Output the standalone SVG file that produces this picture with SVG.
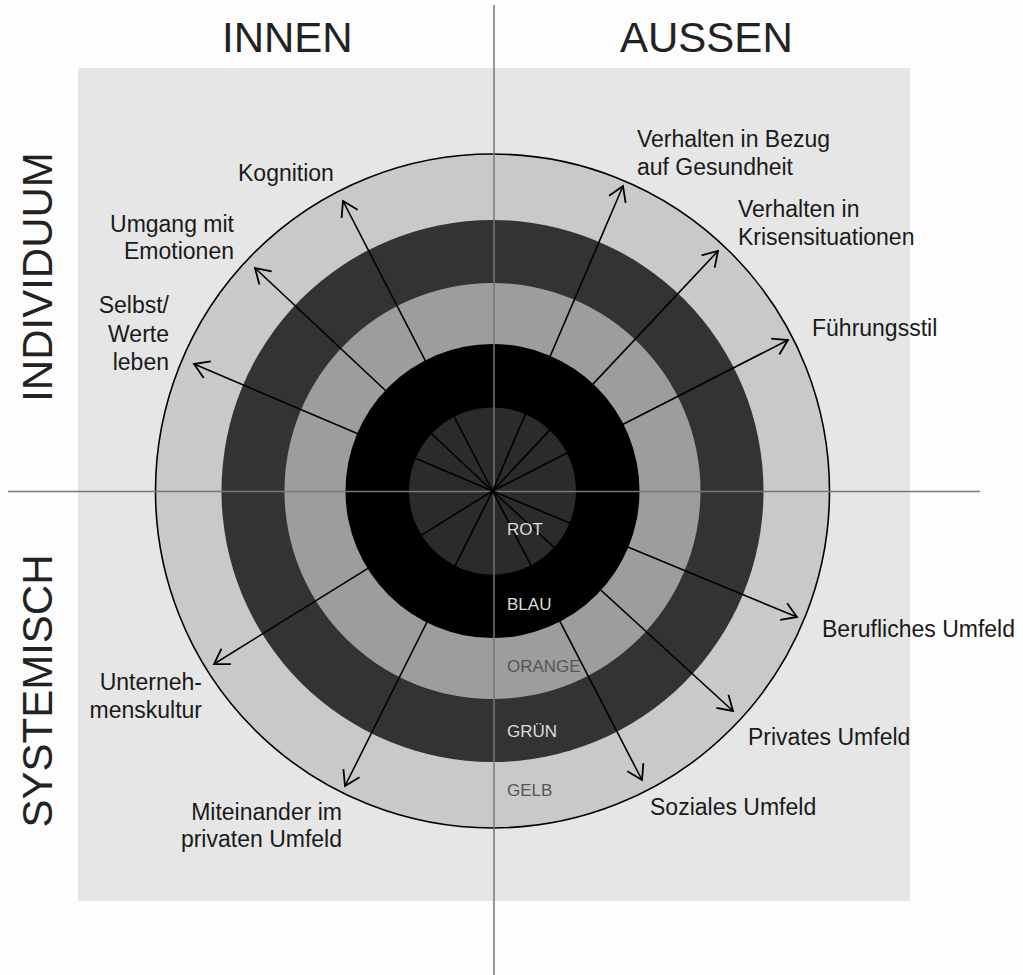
<svg xmlns="http://www.w3.org/2000/svg" width="1023" height="975" viewBox="0 0 1023 975">
<style>
  .lbl { font-family: "Liberation Sans", Arial, sans-serif; font-size: 23px; fill: #1a1a1a; }
  .head { font-family: "Liberation Sans", Arial, sans-serif; font-size: 42px; fill: #222; }
  .ring { font-family: "Liberation Sans", Arial, sans-serif; font-size: 17px; }
  .lt { fill: #dcdcdc; }
  .dk { fill: #555; }
  .axis { stroke: #777; stroke-width: 1.5; fill: none; }
  .arr { stroke: #000; stroke-width: 1.6; fill: none; marker-end: url(#ah); }
</style>
<defs>
  <marker id="ah" markerUnits="userSpaceOnUse" orient="auto" markerWidth="40" markerHeight="40" refX="0" refY="0" viewBox="-20 -20 40 40" overflow="visible">
    <path d="M-14.4,-9 L0,0 L-14.4,9" fill="none" stroke="#000" stroke-width="1.8" stroke-linejoin="miter"/>
  </marker>
</defs>
<rect x="0" y="0" width="1023" height="975" fill="#fdfdfd"/>
<rect id="field" x="78" y="68" width="832" height="833" fill="#e6e6e6"/>

<g id="rings">
  <circle id="ring-gelb" cx="492.5" cy="491" r="337" fill="#c9c9c9" stroke="#000" stroke-width="1.6"/>
  <circle id="ring-gruen" cx="492.5" cy="491" r="271" fill="#333"/>
  <circle id="ring-orange" cx="492.5" cy="491" r="208" fill="#9d9d9d"/>
  <circle id="ring-blau" cx="492.5" cy="491" r="147" fill="#000"/>
  <circle id="ring-rot" cx="492.5" cy="491" r="83.5" fill="#2b2b2b"/>
</g>

<g id="axes">
  <line class="axis" x1="494" y1="5" x2="494" y2="975"/>
  <line class="axis" x1="8" y1="491.5" x2="980" y2="491.5"/>
</g>

<g id="connectors">
  <line class="arr" x1="492.5" y1="491" x2="343" y2="201"/>
  <line class="arr" x1="492.5" y1="491" x2="255" y2="268"/>
  <line class="arr" x1="492.5" y1="491" x2="194" y2="364"/>
  <line class="arr" x1="492.5" y1="491" x2="623" y2="186"/>
  <line class="arr" x1="492.5" y1="491" x2="718" y2="251"/>
  <line class="arr" x1="492.5" y1="491" x2="788" y2="340"/>
  <line class="arr" x1="492.5" y1="491" x2="797" y2="617"/>
  <line class="arr" x1="492.5" y1="491" x2="733" y2="711"/>
  <line class="arr" x1="492.5" y1="491" x2="642" y2="780"/>
  <line class="arr" x1="492.5" y1="491" x2="345" y2="786"/>
  <line class="arr" x1="492.5" y1="491" x2="214" y2="664"/>
</g>

<g id="ring-labels">
  <text class="ring lt" x="507" y="535">ROT</text>
  <text class="ring lt" x="507" y="610">BLAU</text>
  <text class="ring dk" x="507" y="672">ORANGE</text>
  <text class="ring lt" x="507" y="737">GRÜN</text>
  <text class="ring dk" x="507" y="796">GELB</text>
</g>

<g id="headings">
  <text id="h-innen" class="head" x="222" y="52">INNEN</text>
  <text id="h-aussen" class="head" x="620" y="52">AUSSEN</text>
  <text id="h-individuum" class="head" text-anchor="middle" transform="translate(52,277) rotate(-90)">INDIVIDUUM</text>
  <text id="h-systemisch" class="head" text-anchor="middle" transform="translate(52,691) rotate(-90)">SYSTEMISCH</text>
</g>

<g id="n-kognition"><text class="lbl" x="238" y="181">Kognition</text></g>
<g id="n-umgang"><text class="lbl" text-anchor="end"><tspan x="234" y="232">Umgang mit</tspan><tspan x="234" y="259">Emotionen</tspan></text></g>
<g id="n-selbst"><text class="lbl" text-anchor="end"><tspan x="169" y="313">Selbst/</tspan><tspan x="169" y="342">Werte</tspan><tspan x="169" y="370">leben</tspan></text></g>
<g id="n-gesundheit"><text class="lbl"><tspan x="637" y="147">Verhalten in Bezug</tspan><tspan x="637" y="175">auf Gesundheit</tspan></text></g>
<g id="n-krisen"><text class="lbl"><tspan x="738" y="217">Verhalten in</tspan><tspan x="738" y="245">Krisensituationen</tspan></text></g>
<g id="n-fuehrung"><text class="lbl" x="812" y="336">Führungsstil</text></g>
<g id="n-beruflich"><text class="lbl" x="822" y="637">Berufliches Umfeld</text></g>
<g id="n-privat"><text class="lbl" x="748" y="745">Privates Umfeld</text></g>
<g id="n-sozial"><text class="lbl" x="650" y="815">Soziales Umfeld</text></g>
<g id="n-unternehmen"><text class="lbl" text-anchor="end"><tspan x="202" y="690">Unterneh-</tspan><tspan x="202" y="718">menskultur</tspan></text></g>
<g id="n-miteinander"><text class="lbl" text-anchor="end"><tspan x="342" y="820">Miteinander im</tspan><tspan x="342" y="847">privaten Umfeld</tspan></text></g>
</svg>
